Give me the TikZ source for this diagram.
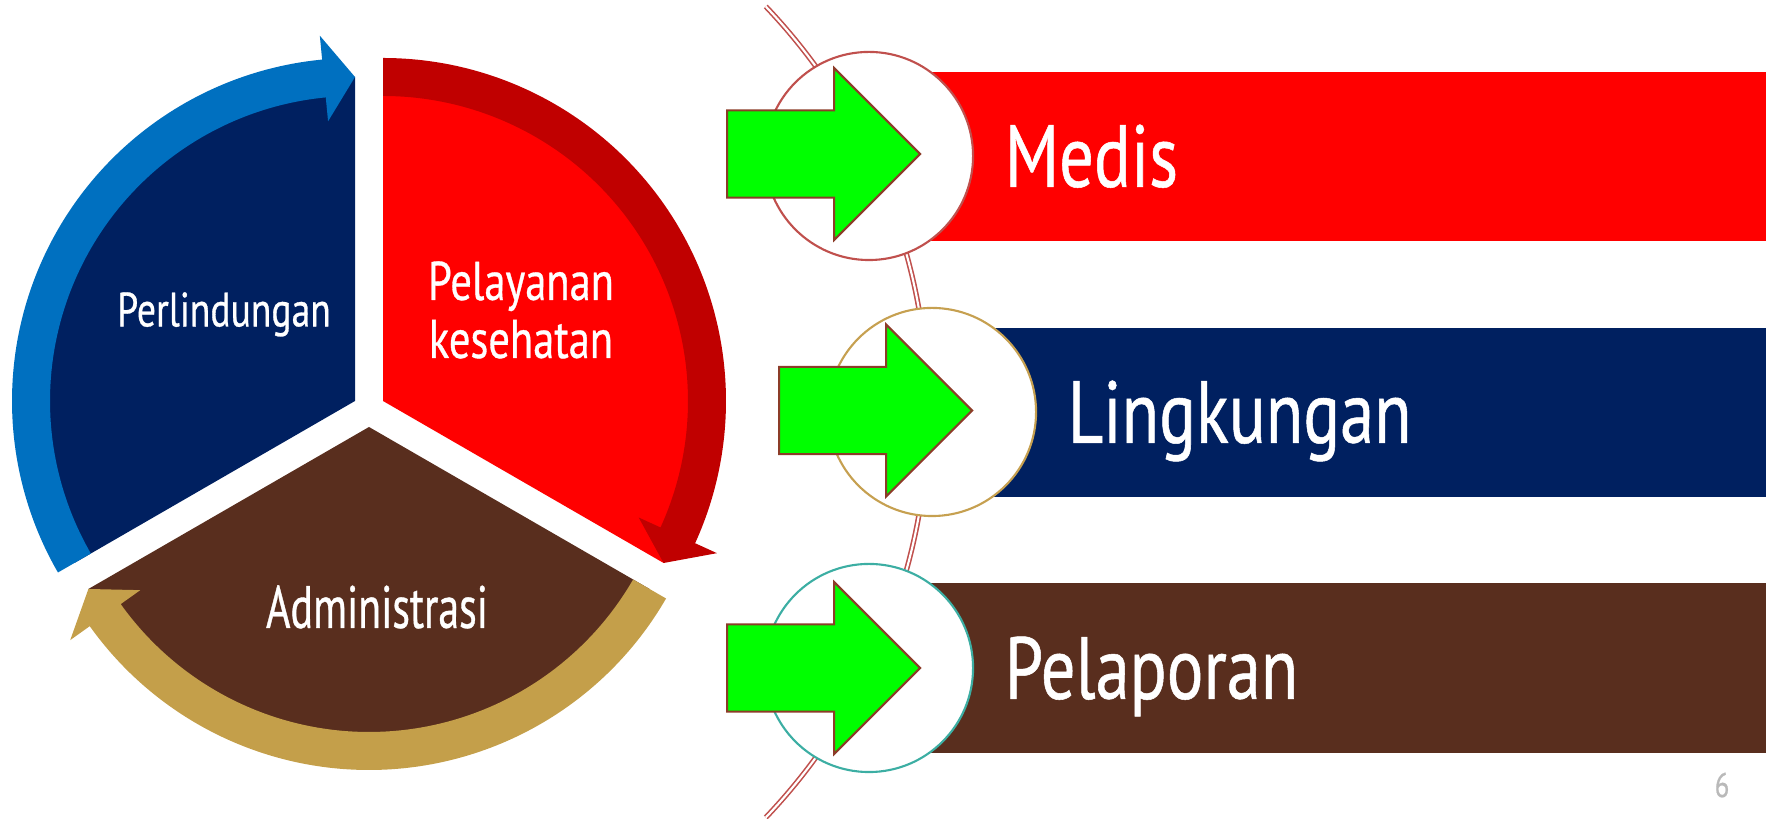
\documentclass[tikz,border=0pt]{standalone}
\usepackage{xcolor}
\usepackage{fontspec}
\newfontfamily\dinfont[FakeStretch=0.78, FakeBold=0.6]{PT Sans}
\newfontfamily\dinnarrow[FakeStretch=0.7, FakeBold=0.6]{PT Sans}
\usetikzlibrary{arrows.meta,positioning,shapes.arrows}

\definecolor{navyseg}{RGB}{0,32,96}
\definecolor{blueband}{RGB}{0,112,192}
\definecolor{redseg}{RGB}{255,0,0}
\definecolor{redband}{RGB}{192,0,0}
\definecolor{brownseg}{RGB}{89,46,30}
\definecolor{tanband}{RGB}{196,159,74}
\definecolor{rimred}{RGB}{192,80,77}
\definecolor{rimgold}{RGB}{198,160,80}
\definecolor{rimteal}{RGB}{60,174,163}
\definecolor{arrowgreen}{RGB}{0,255,0}
\definecolor{arrowedge}{RGB}{140,60,40}

\begin{document}
\begin{tikzpicture}[x=0.01cm, y=0.01cm,
    caplabel/.style={text=white, inner sep=0pt, text depth=0pt},
    twolabel/.style={text=white, inner sep=0pt, align=center,
                     font=\dinfont\fontsize{15.5}{16.5}\selectfont},
    bar/.style={minimum width=8.96cm, minimum height=1.69cm, inner sep=0pt, anchor=west},
    hub/.style={circle, fill=white, line width=0.6pt, minimum size=2.08cm, inner sep=0pt},
    push/.style={single arrow, fill=arrowgreen, draw=arrowedge, line width=0.57pt,
                 minimum height=1.93cm, minimum width=1.70cm,
                 single arrow head extend=0.425cm, single arrow head indent=0pt,
                 inner xsep=0pt, inner ysep=0.425cm, anchor=tail},
    bartext/.style={text=white, font=\dinfont\fontsize{25}{30}\selectfont,
                    text height=17.5pt, text depth=0pt, inner sep=0pt},
    rim/.style={draw=rimred, line width=0.45pt, double=white, double distance=0.6pt}]
  \useasboundingbox (0,0) rectangle (1767,819);

  % cycle on the left
  \coordinate (a1) at (355,418);
  \coordinate (a2) at (383,418);
  \coordinate (a3) at (369,392);
  \begin{scope}[shift={(a1)}]
    \fill[navyseg] (0,0) -- (90:324) arc[start angle=90, end angle=210, radius=324] -- cycle;
    \fill[blueband] (210:343) arc[start angle=210, end angle=95.5, radius=343]
      -- (95.5:367) -- (90:324) -- (95.5:281) -- (95.5:305)
      arc[start angle=95.5, end angle=210, radius=305] -- cycle;
  \end{scope}
  \begin{scope}[shift={(a2)}]
    \fill[redseg] (0,0) -- (-30:324) arc[start angle=-30, end angle=90, radius=324] -- cycle;
    \fill[redband] (90:343) arc[start angle=90, end angle=-24.5, radius=343]
      -- (-24.5:367) -- (-30:324) -- (-24.5:281) -- (-24.5:305)
      arc[start angle=-24.5, end angle=90, radius=305] -- cycle;
  \end{scope}
  \begin{scope}[shift={(a3)}]
    \fill[brownseg] (0,0) -- (210:324) arc[start angle=210, end angle=330, radius=324] -- cycle;
    \fill[tanband] (-30:343) arc[start angle=-30, end angle=-144.5, radius=343]
      -- (-144.5:367) -- (-150:324) -- (-144.5:281) -- (-144.5:305)
      arc[start angle=-144.5, end angle=-30, radius=305] -- cycle;
  \end{scope}
  \node[caplabel, text height=9.6pt, font=\dinfont\fontsize{13.7}{15}\selectfont]
    (perl) at (224,509.5) {Perlindungan};
  \node[twolabel] (yan) at (521,509) {Pelayanan\\kesehatan};
  \node[caplabel, text height=11.9pt, font=\dinnarrow\fontsize{17}{18}\selectfont]
    (adm) at (377,212) {Administrasi};

  % bars, rim and hubs on the right
  \node[bar, fill=redseg]   (b1) at (869,662.5) {};
  \node[bar, fill=navyseg]  (b2) at (869,406.5) {};
  \node[bar, fill=brownseg] (b3) at (869,151) {};
  \coordinate (rimc) at (340,407);
  \draw[rim] (rimc) ++(43.6:588) arc[start angle=43.6, end angle=-43.6, radius=588];
  \node[hub, draw=rimred]  (c1) at (869,663) {};
  \node[hub, draw=rimgold] (c2) at (932,407) {};
  \node[hub, draw=rimteal] (c3) at (869,151) {};
  \node[push] (p1) at (726,665) {};
  \node[push] (p2) at (778,408.5) {};
  \node[push] (p3) at (726,151) {};
  \node[bartext, right=0.30cm of c1] (medis) {Medis};
  \node[bartext, right=0.30cm of c2] (ling) {Lingkungan};
  \node[bartext, right=0.30cm of c3] (lapor) {Pelaporan};

  \node[font=\dinfont\fontsize{9.8}{10}\selectfont, text=gray!55] (pageno) at (1722,34) {6};
\end{tikzpicture}
\end{document}
